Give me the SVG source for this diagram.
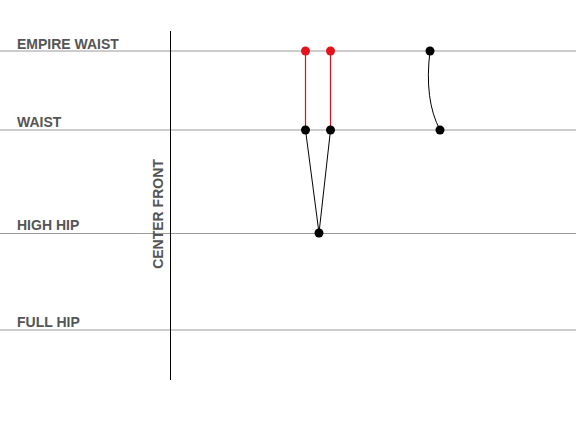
<svg xmlns="http://www.w3.org/2000/svg" width="576" height="427" viewBox="0 0 576 427">
<style>
.guide{stroke:#9a9a9a;stroke-width:1;fill:none}
.lbl{font-family:"Liberation Sans",Arial,sans-serif;font-weight:bold;font-size:14px;fill:#555}
.blk{stroke:#000;stroke-width:1;fill:none}
.red{stroke:#d9121f;stroke-width:1.2;fill:none}
.dot{fill:#000}
.rdot{fill:#e3121c}
</style>
<rect width="576" height="427" fill="#fff"/>
<g id="guides">
<line class="guide" x1="0" y1="51" x2="576" y2="51"/>
<line class="guide" x1="0" y1="130" x2="576" y2="130"/>
<line class="guide" x1="0" y1="233.5" x2="576" y2="233.5"/>
<line class="guide" x1="0" y1="330" x2="576" y2="330"/>
<line x1="170.5" y1="31" x2="170.5" y2="380" stroke="#000" stroke-width="1"/>
</g>
<g id="labels">
<text class="lbl" x="17" y="49">EMPIRE WAIST</text>
<text class="lbl" x="17" y="127">WAIST</text>
<text class="lbl" x="17" y="230">HIGH HIP</text>
<text class="lbl" x="17" y="327">FULL HIP</text>
<text class="lbl" transform="translate(162.5,214) rotate(-90)" text-anchor="middle">CENTER FRONT</text>
</g>
<g id="connectors">
<line class="red" x1="305.5" y1="51" x2="305.5" y2="130"/>
<line class="red" x1="330.5" y1="51" x2="330.5" y2="130"/>
<line class="blk" x1="305.5" y1="130" x2="319" y2="233"/>
<line class="blk" x1="330.5" y1="130" x2="319" y2="233"/>
<path class="blk" d="M430,51 Q424,100 440,130"/>
</g>
<g id="n1"><circle class="rdot" cx="305.5" cy="51" r="4.5"/></g>
<g id="n2"><circle class="rdot" cx="330.5" cy="51" r="4.5"/></g>
<g id="n3"><circle class="dot" cx="305.5" cy="130" r="4.5"/></g>
<g id="n4"><circle class="dot" cx="330.5" cy="130" r="4.5"/></g>
<g id="n5"><circle class="dot" cx="319" cy="233" r="4.5"/></g>
<g id="n6"><circle class="dot" cx="430" cy="51" r="4.5"/></g>
<g id="n7"><circle class="dot" cx="440" cy="130" r="4.5"/></g>
</svg>
